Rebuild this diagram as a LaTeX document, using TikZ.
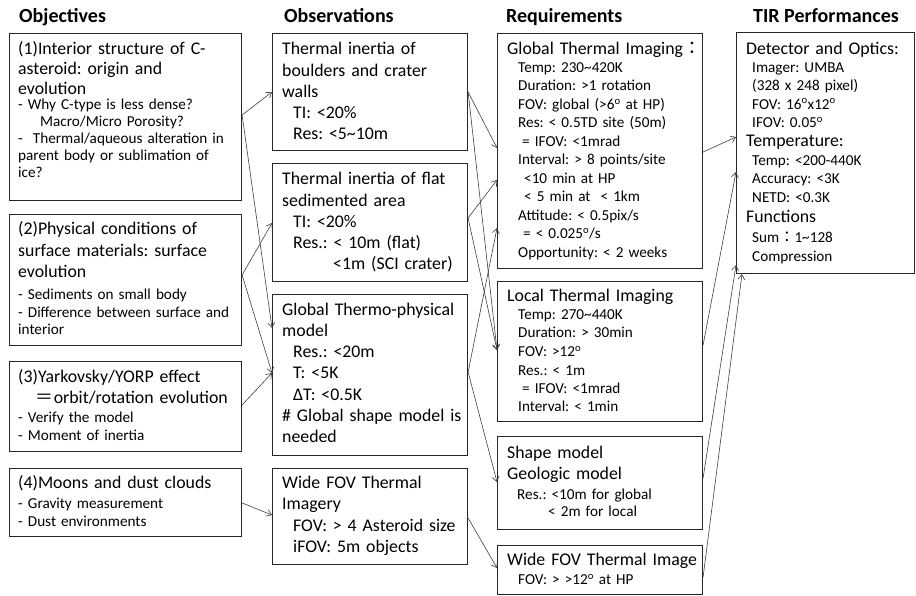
\documentclass[tikz,border=0pt]{standalone}
\usepackage{fontspec}
\setmainfont{Carlito}
\newfontfamily\cjk{Noto Sans CJK JP}
\usetikzlibrary{arrows.meta,calc,positioning}
\frenchspacing

\tikzset{
  rbox/.style={draw=black!85, line width=1.1pt, fill=white, anchor=north west, inner sep=0pt},
  head/.style={anchor=base west, inner sep=0pt, font=\fontsize{20}{24}\selectfont\bfseries},
  bigtxt/.style={anchor=base west, inner sep=0pt, align=left, text width=230pt, font=\fontsize{17.8}{#1}\selectfont},
  bigtxt/.default=21.3,
  smalltxt/.style={anchor=base west, inner sep=0pt, align=left, text width=230pt, font=\fontsize{15.2}{#1}\selectfont},
  smalltxt/.default=17.3,
}
\newcommand{\myind}{\hspace*{11pt}}
\newcommand{\degsup}{\textsuperscript{o}}
\newcommand{\tld}{\textasciitilde}

\begin{document}
\begin{tikzpicture}[x=1pt, y=-1pt]
   \useasboundingbox (0,0) rectangle (916,596);
   \fill[white] (0,0) rectangle (916,596);
   % column heads
   \node[head] (hobj) at (19,22.5) {Objectives};
   \node[head] (hobs) at (284,22.5) {Observations};
   \node[head] (hreq) at (506,22.5) {Requirements};
   \node[head] (htir) at (753,22.5) {TIR Performances};
   % boxes
   \begin{scope}[every node/.style={rbox}]
    \node[minimum width=232pt, minimum height=167pt] (obj1) at (9,33) {};
    \node[minimum width=232pt, minimum height=131pt] (obj2) at (9,214) {};
    \node[minimum width=232pt, minimum height=90pt] (obj3) at (9,361) {};
    \node[minimum width=232pt, minimum height=68pt] (obj4) at (9,468) {};
    \node[minimum width=195pt, minimum height=117pt] (obs1) at (272,33) {};
    \node[minimum width=195pt, minimum height=118pt] (obs2) at (272,163) {};
    \node[minimum width=195pt, minimum height=161pt] (obs3) at (272,294) {};
    \node[minimum width=195pt, minimum height=96pt] (obs4) at (272,468) {};
    \node[minimum width=205pt, minimum height=235pt] (req1) at (497,33) {};
    \node[minimum width=205pt, minimum height=140pt] (req2) at (497,281) {};
    \node[minimum width=205pt, minimum height=93pt] (req3) at (497,436) {};
    \node[minimum width=205pt, minimum height=49pt] (req4) at (497,545) {};
    \node[minimum width=178pt, minimum height=241pt] (tir) at (736,32) {};
   \end{scope}
   % objectives
   \node[bigtxt=20] (obj1t) at (18,55) {(1)Interior structure of C-\\asteroid: origin and\\evolution};
   \node[smalltxt=17] (obj1d) at (18,109.5) {- Why C-type is less dense?\\\hspace*{22pt}Macro/Micro Porosity?\\-\ \ Thermal/aqueous alteration in\\parent body or sublimation of\\ice?};
   \node[bigtxt=21.5] (obj2t) at (18,235) {(2)Physical conditions of\\surface materials: surface\\evolution};
   \node[smalltxt=17.5] (obj2d) at (18,299.5) {- Sediments on small body\\- Difference between surface and\\interior};
   \node[bigtxt=21] (obj3t) at (18,382) {(3)Yarkovsky/YORP effect\\{\cjk 　＝}orbit/rotation evolution};
   \node[smalltxt=18] (obj3d) at (18,422.5) {- Verify the model\\- Moment of inertia};
   \node[bigtxt] (obj4t) at (18,488) {(4)Moons and dust clouds};
   \node[smalltxt=18] (obj4d) at (18,508) {- Gravity measurement\\- Dust environments};
   % observations
   \node[bigtxt=21.2] (obs1t) at (282,55) {Thermal inertia of\\boulders and crater\\walls\\\myind TI: <20\%\\\myind Res: <5\tld10m};
   \node[bigtxt=21.2] (obs2t) at (282,185) {Thermal inertia of flat\\sedimented area\\\myind TI: <20\%\\\myind Res.: < 10m (flat)\\\hspace*{51pt}<1m (SCI crater)};
   \node[bigtxt=21.3] (obs3t) at (282,315) {Global Thermo-physical\\model\\\myind Res.: <20m\\\myind T: <5K\\\myind ΔT: <0.5K\\\# Global shape model is\\needed};
   \node[bigtxt=21.5] (obs4t) at (282,488) {Wide FOV Thermal\\Imagery\\\myind FOV: > 4 Asteroid size\\\myind iFOV: 5m objects};
   % requirements
   \node[bigtxt] (req1t) at (507,55) {Global Thermal Imaging{\cjk ：}};
   \node[smalltxt=18.5] (req1d) at (518,72.5) {Temp: 230\tld420K\\Duration: >1 rotation\\FOV: global (>6\degsup{} at HP)\\Res: < 0.5TD site (50m)\\\hspace*{4pt}= IFOV: <1mrad\\Interval: > 8 points/site\\\hspace*{6pt}<10 min at HP\\\hspace*{6pt}< 5 min at\ \ < 1km\\Attitude: < 0.5pix/s\\\hspace*{5pt}= < 0.025\degsup/s\\Opportunity: < 2 weeks};
   \node[bigtxt] (req2t) at (507,301.5) {Local Thermal Imaging};
   \node[smalltxt=18.5] (req2d) at (518,319.5) {Temp: 270\tld440K\\Duration: > 30min\\FOV: >12\degsup\\Res.: < 1m\\\hspace*{4pt}= IFOV: <1mrad\\Interval: < 1min};
   \node[bigtxt=21.5] (req3t) at (507,458) {Shape model\\Geologic model};
   \node[smalltxt=17] (req3d) at (517,499.5) {Res.: <10m for global\\\hspace*{31pt}< 2m for local};
   \node[bigtxt] (req4t) at (507,565) {Wide FOV Thermal Image};
   \node[smalltxt] (req4d) at (518,584.5) {FOV: > >12\degsup{} at HP};
   % TIR performances
   \node[bigtxt] (tir1t) at (746,55) {Detector and Optics:};
   \node[smalltxt=18.3] (tir1d) at (752,72.5) {Imager: UMBA\\(328 x 248 pixel)\\FOV: 16\degsup x12\degsup\\IFOV: 0.05\degsup};
   \node[bigtxt] (tir2t) at (746,147) {Temperature:};
   \node[smalltxt=18.3] (tir2d) at (752,165.5) {Temp: <200-440K\\Accuracy: <3K\\NETD: <0.3K};
   \node[bigtxt] (tir3t) at (746,223) {Functions};
   \node[smalltxt=19] (tir3d) at (752,242.5) {Sum{\cjk ：}1\tld128\\Compression};
   % links
   \begin{scope}[>={Straight Barb[length=5pt,width=7pt]}, every edge/.style={draw=black!75, line width=0.6pt, ->}]
    \draw (obj1.east |- 0,115) edge (obs1.west |- 0,92);
    \draw (obj1.east |- 0,115) edge (obs3.west |- 0,328);
    \draw (obj2.east |- 0,275) edge (obs2.west |- 0,223);
    \draw (obj2.east |- 0,275) edge (obs3.west |- 0,373);
    \draw (obj3.east |- 0,405) edge (obs3.west |- 0,373);
    \draw (obj4.east |- 0,503) edge (obs4.west |- 0,515);
    \draw (obs1.east |- 0,92) edge (req1.west |- 0,148);
    \draw (obs1.east |- 0,92) edge (req2.west |- 0,350);
    \draw (obs2.east |- 0,218) edge (req1.west |- 0,180);
    \draw (obs2.east |- 0,218) edge (req2.west |- 0,350);
    \draw (obs3.east |- 0,372) edge (req1.west |- 0,228);
    \draw (obs3.east |- 0,372) edge (req3.west |- 0,482);
    \draw (obs4.east |- 0,518) edge (req4.west |- 0,568);
    \draw (req1.east |- 0,152) edge (tir.west |- 0,137);
    \draw (req2.east |- 0,345) edge (tir.west |- 0,172);
    \draw (req3.east |- 0,478) edge (tir.west |- 0,265);
    \draw (req4.east |- 0,577) edge (tir.south -| 742,0);
   \end{scope}
\end{tikzpicture}
\end{document}
